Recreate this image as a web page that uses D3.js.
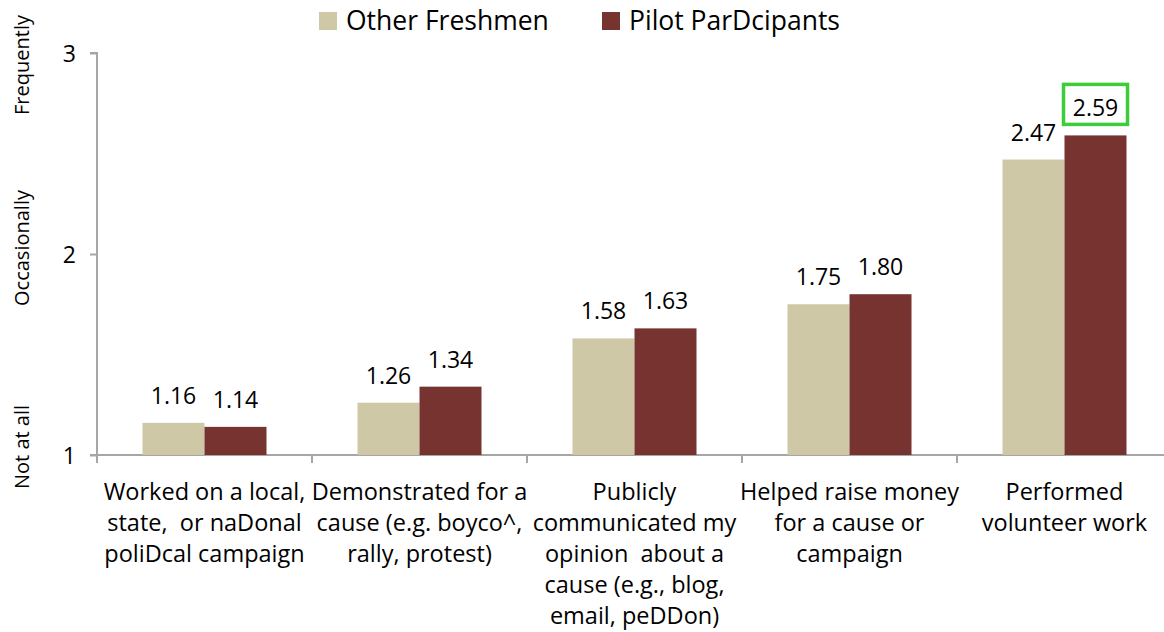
<!DOCTYPE html>
<html>
<head>
<meta charset="utf-8">
<script src="https://cdn.jsdelivr.net/npm/d3@7"></script>
<style>
  body { margin: 0; background: #fff; }
  svg text { font-family: "Open Sans", Carlito, Lato, sans-serif; fill: #000; }
</style>
</head>
<body>
<svg id="chart" width="1164" height="632"></svg>
<script>
// Data
const categories = [
  ["Worked on a local,", "state,  or naDonal", "poliDcal campaign"],
  ["Demonstrated for a", "cause (e.g. boyco^,", "rally, protest)"],
  ["Publicly", "communicated my", "opinion  about a", "cause (e.g., blog,", "email, peDDon)"],
  ["Helped raise money", "for a cause or", "campaign"],
  ["Performed", "volunteer work"]
];
const seriesNames = ["Other Freshmen", "Pilot ParDcipants"];
const otherFreshmen = [1.16, 1.26, 1.58, 1.75, 2.47];
const pilotParticipants = [1.14, 1.34, 1.63, 1.80, 2.59];
const yTicks = [1, 2, 3];
const yTickNames = ["Not at all", "Occasionally", "Frequently"];
const highlighted = { series: 1, index: 4 };

const colors = {
  other: "#cec8a7",
  pilot: "#773330",
  axis: "#a6a6a6",
  highlight: "#3ccc3c"
};

const svg = d3.select("#chart");
const margin = { left: 97, top: 53, bottom: 455 };

const x = d3.scaleBand()
  .domain(d3.range(categories.length))
  .range([97, 1172]);

const y = d3.scaleLinear()
  .domain([1, 3])
  .range([455, 53]);

const series = [otherFreshmen, pilotParticipants];
const seriesColors = [colors.other, colors.pilot];
const barW = 62;

// axes
const yAxis = svg.append("g")
  .attr("transform", `translate(${margin.left},0)`)
  .call(d3.axisLeft(y).tickValues(yTicks).tickFormat(d3.format("d")).tickSize(7).tickPadding(14));
yAxis.select(".domain").attr("stroke", colors.axis).attr("stroke-width", 2)
  .attr("d", `M-7,${y(3)}H0V${y(1)}`);
yAxis.selectAll(".tick line").attr("stroke", colors.axis).attr("stroke-width", 2);
yAxis.selectAll(".tick text").style("font-size", "23px").attr("dy", "0.35em");

const xAxis = svg.append("g")
  .attr("transform", `translate(0,${y(1)})`);
xAxis.append("line")
  .attr("x1", 90).attr("x2", 1172)
  .attr("stroke", colors.axis).attr("stroke-width", 2);
xAxis.selectAll(".xtick")
  .data(d3.range(categories.length + 1))
  .enter().append("line")
  .attr("x1", i => x(0) + i * x.bandwidth())
  .attr("x2", i => x(0) + i * x.bandwidth())
  .attr("y1", 0).attr("y2", 8)
  .attr("stroke", colors.axis).attr("stroke-width", 2);

// category labels
const lbl = svg.append("g");
categories.forEach((lines, i) => {
  const t = lbl.append("text")
    .attr("text-anchor", "middle")
    .style("font-size", "23.5px")
    .style("white-space", "pre");
  lines.forEach((line, j) => {
    t.append("tspan")
      .attr("x", x(i) + x.bandwidth() / 2)
      .attr("y", 500 + j * 31)
      .text(line);
  });
});

// bars
series.forEach((vals, s) => {
  svg.append("g").selectAll("rect")
    .data(vals)
    .enter().append("rect")
    .attr("x", (d, i) => x(i) + x.bandwidth() / 2 - barW + s * barW)
    .attr("y", d => y(d))
    .attr("width", barW)
    .attr("height", d => y(1) - y(d))
    .attr("fill", seriesColors[s]);

  svg.append("g").selectAll("text")
    .data(vals)
    .enter().append("text")
    .attr("x", (d, i) => x(i) + x.bandwidth() / 2 - barW / 2 + s * barW)
    .attr("y", d => y(d) - 19)
    .attr("text-anchor", "middle")
    .style("font-size", "23px")
    .text(d => d.toFixed(2));
});

// highlight box around one label
const hv = series[highlighted.series][highlighted.index];
const hx = x(highlighted.index) + x.bandwidth() / 2 - barW / 2 + highlighted.series * barW;
svg.append("rect")
  .attr("x", hx - 32)
  .attr("y", y(hv) - 51)
  .attr("width", 64)
  .attr("height", 40)
  .attr("fill", "none")
  .attr("stroke", colors.highlight)
  .attr("stroke-width", 3.5);

// rotated y axis names
svg.append("g").selectAll("text")
  .data(yTicks)
  .enter().append("text")
  .attr("transform", (d, i) => {
    const off = [-8, -6, 12][i];
    return `translate(29,${y(d) + off}) rotate(-90)`;
  })
  .attr("text-anchor", "middle")
  .style("font-size", "20px")
  .text((d, i) => yTickNames[i]);

// legend
const legend = svg.append("g");
const legendX = [319, 602];
seriesNames.forEach((name, i) => {
  legend.append("rect")
    .attr("x", legendX[i]).attr("y", 12)
    .attr("width", 18).attr("height", 18)
    .attr("fill", seriesColors[i]);
  legend.append("text")
    .attr("x", legendX[i] + 27).attr("y", 30)
    .style("font-size", "26.5px")
    .text(name);
});
</script>
</body>
</html>
